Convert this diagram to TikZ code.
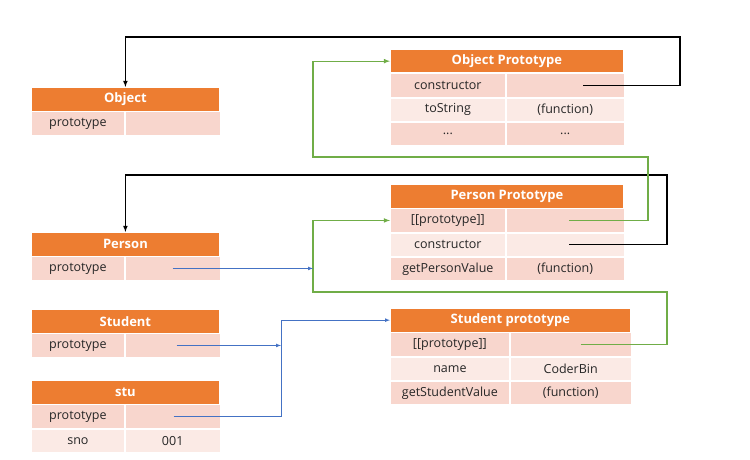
\documentclass[tikz,border=0pt]{standalone}
\usepackage{fontspec}
\setmainfont{Open Sans}
\usetikzlibrary{arrows,positioning}

\definecolor{orhead}{HTML}{ED7D31}
\definecolor{rowdark}{HTML}{F8D6CD}
\definecolor{rowlight}{HTML}{FBEAE5}
\definecolor{lnkgreen}{HTML}{70AD47}
\definecolor{lnkblue}{HTML}{4472C4}

\tikzset{
  cell/.style={anchor=north west, inner sep=0, minimum height=23.5,
    draw=white, line width=0.8, text=black!85,
    font=\fontsize{12.5}{14}\selectfont},
  head/.style={cell, fill=orhead, text=white,
    font=\fontsize{13}{15}\selectfont\bfseries},
  dark/.style={cell, fill=rowdark},
  light/.style={cell, fill=rowlight},
  blacklink/.style={draw=black, line width=1.1, ->, >=latex},
  greenlink/.style={draw=lnkgreen, line width=1.1, ->, >=latex},
  bluelink/.style={draw=lnkblue, line width=0.7, ->, >=latex}
}

\begin{document}
\begin{tikzpicture}[x=1pt, y=-1pt]
	\useasboundingbox (0,0) rectangle (750,460);
	% Object
	\node[head, minimum width=188] (obj) at (31,87) {Object};
	\node[dark, minimum width=93] (objk1) at (obj.south west) {prototype};
	\node[dark, minimum width=95] (objv1) at (objk1.north east) {};
	% Object Prototype
	\node[head, minimum width=233] (op) at (390,49) {Object Prototype};
	\node[dark, minimum width=115] (opk1) at (op.south west) {constructor};
	\node[dark, minimum width=118] (opv1) at (opk1.north east) {};
	\node[light, minimum width=115] (opk2) at (opk1.south west) {toString};
	\node[light, minimum width=118] (opv2) at (opk2.north east) {(function)};
	\node[dark, minimum width=115] (opk3) at (opk2.south west) {...};
	\node[dark, minimum width=118] (opv3) at (opk3.north east) {...};
	% Person
	\node[head, minimum width=188] (per) at (31,232) {Person};
	\node[dark, minimum width=93] (perk1) at (per.south west) {prototype};
	\node[dark, minimum width=95] (perv1) at (perk1.north east) {};
	% Person Prototype
	\node[head, minimum width=233] (pp) at (390,184) {Person Prototype};
	\node[dark, minimum width=115] (ppk1) at (pp.south west) {[[prototype]]};
	\node[dark, minimum width=118] (ppv1) at (ppk1.north east) {};
	\node[light, minimum width=115] (ppk2) at (ppk1.south west) {constructor};
	\node[light, minimum width=118] (ppv2) at (ppk2.north east) {};
	\node[dark, minimum width=115] (ppk3) at (ppk2.south west) {getPersonValue};
	\node[dark, minimum width=118] (ppv3) at (ppk3.north east) {(function)};
	% Student
	\node[head, minimum width=188] (stud) at (31,309) {Student};
	\node[dark, minimum width=93] (studk1) at (stud.south west) {prototype};
	\node[dark, minimum width=95] (studv1) at (studk1.north east) {};
	% stu
	\node[head, minimum width=188] (stu) at (31,380) {stu};
	\node[dark, minimum width=93] (stuk1) at (stu.south west) {prototype};
	\node[dark, minimum width=95] (stuv1) at (stuk1.north east) {};
	\node[light, minimum width=93] (stuk2) at (stuk1.south west) {sno};
	\node[light, minimum width=95] (stuv2) at (stuk2.north east) {001};
	% Student prototype
	\node[head, minimum width=240] (sp) at (390,308) {Student prototype};
	\node[dark, minimum width=119] (spk1) at (sp.south west) {[[prototype]]};
	\node[dark, minimum width=121] (spv1) at (spk1.north east) {};
	\node[light, minimum width=119] (spk2) at (spk1.south west) {name};
	\node[light, minimum width=121] (spv2) at (spk2.north east) {CoderBin};
	\node[dark, minimum width=119] (spk3) at (spk2.south west) {getStudentValue};
	\node[dark, minimum width=121] (spv3) at (spk3.north east) {(function)};

	\coordinate (gbus) at (313,0);
	\coordinate (bbus) at (281,0);

	% constructor links
	\draw[blacklink] ([xshift=18]opv1.center) -| (680,37) -| (obj.north);
	\draw[blacklink] ([xshift=4]ppv2.center) -| (667,175) -| (per.north);
	% [[prototype]] links
	\draw[greenlink] ([xshift=4]ppv1.center) -| (648,157) -- (gbus |- 0,157) |- (op.west);
	\draw[greenlink] ([xshift=10]spv1.center) -| (667,292) -- (gbus |- 0,292) |- (ppk1.west);
	% prototype links
	\draw[bluelink] (perv1.center) -- (gbus |- perv1.center);
	\draw[bluelink] ([xshift=4]studv1.center) -- (bbus |- studv1.center);
	\draw[bluelink] ([xshift=1]stuv1.center) -| (bbus |- sp.west) -- (sp.west);
\end{tikzpicture}
\end{document}
